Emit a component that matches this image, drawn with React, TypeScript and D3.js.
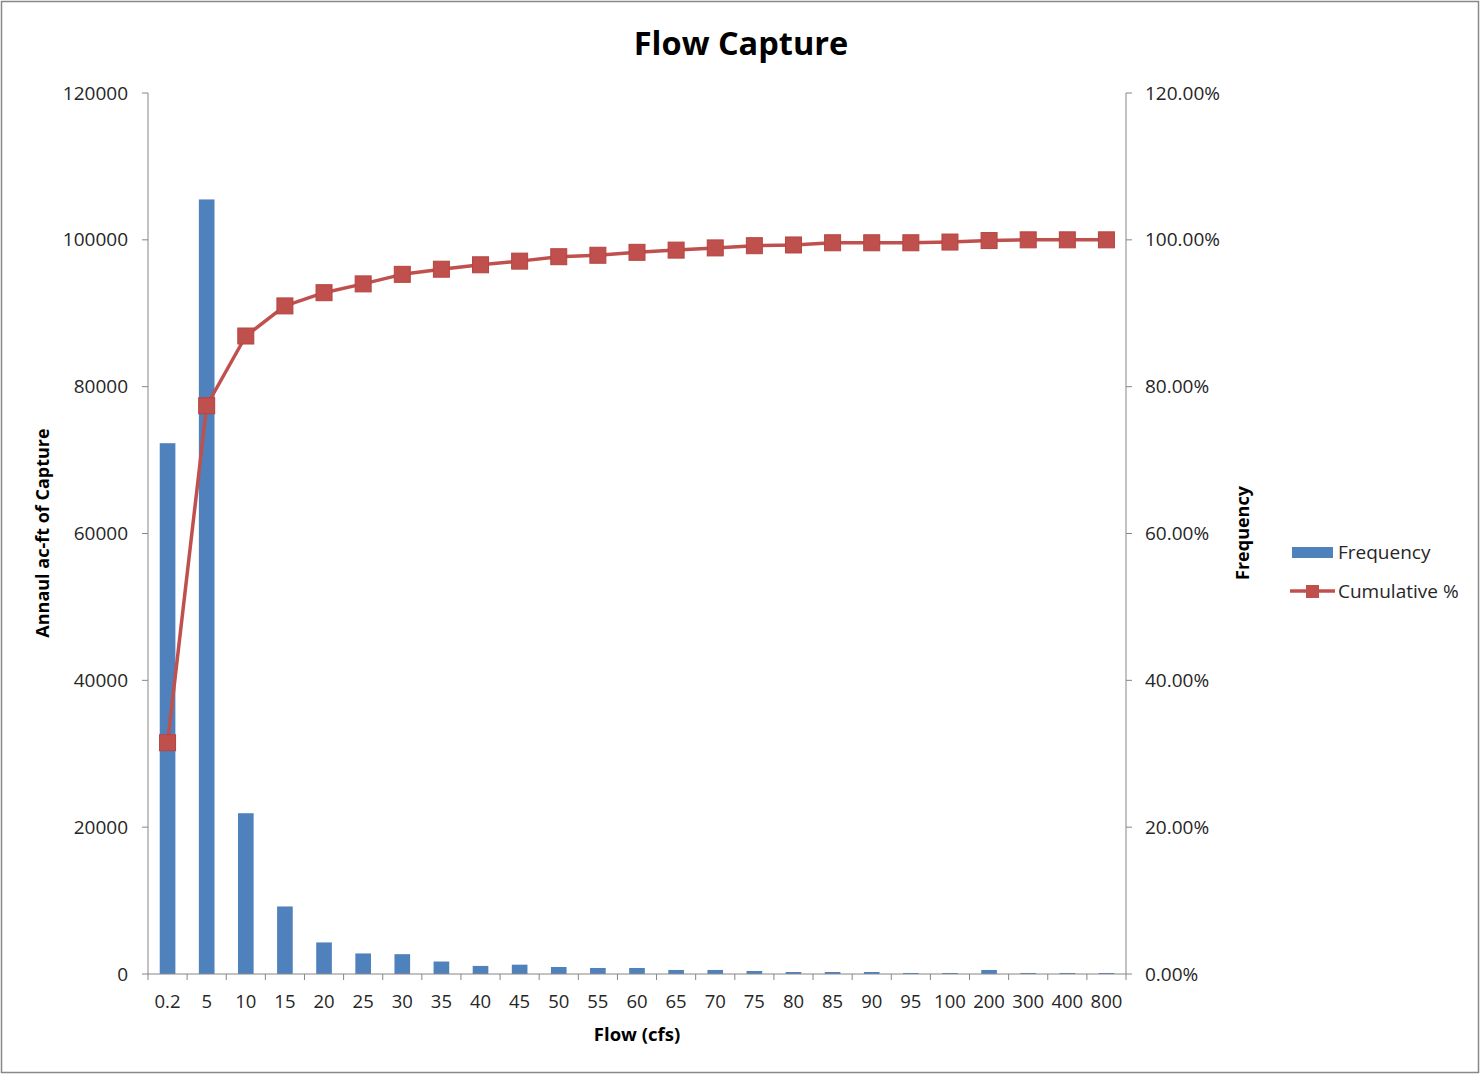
import React from "react";
import * as d3 from "d3";

const categories = ["0.2","5","10","15","20","25","30","35","40","45","50","55","60","65","70","75","80","85","90","95","100","200","300","400","800"];
const frequency = [72300,105500,21900,9200,4300,2800,2700,1700,1100,1270,950,820,820,550,550,410,270,270,270,140,140,550,140,140,140];
const cumulative = [31.5,77.4,86.9,91.0,92.8,94.0,95.3,96.0,96.6,97.1,97.7,97.9,98.3,98.6,98.9,99.2,99.3,99.6,99.6,99.6,99.7,99.9,100,100,100];
const leftTicks = [0,20000,40000,60000,80000,100000,120000];
const rightTicks = [0,20,40,60,80,100,120];

const W = 1480, H = 1074;
const M = { left: 148, right: 1126, top: 93, bottom: 974 };
const FONT = "'Open Sans', sans-serif";
const AXIS = "#868686";
const BLUE = "#4F81BD";
const RED = "#C0504D";

export default function App() {
  const x = d3.scaleBand<string>().domain(categories).range([M.left, M.right]).paddingInner(0).paddingOuter(0);
  const yL = d3.scaleLinear().domain([0, 120000]).range([M.bottom, M.top]);
  const yR = d3.scaleLinear().domain([0, 120]).range([M.bottom, M.top]);
  const bw = x.bandwidth() * 0.4;
  const cx = (c: string) => (x(c) as number) + x.bandwidth() / 2;
  const line = d3.line<number>().x((_, i) => cx(categories[i])).y(d => yR(d));
  const ms = 16;

  return (
    <svg width={W} height={H} style={{ position: "absolute", left: 0, top: 0, fontFamily: FONT }}>
      <rect x={0} y={0} width={W} height={H} fill="#fff" />
      <rect x={1.5} y={1.5} width={W - 3} height={H - 3} fill="none" stroke="#888" strokeWidth={1.5} />
      <text x={741} y={55} textAnchor="middle" fontSize={32.5} fontWeight="bold" fill="#000">Flow Capture</text>

      {/* bars */}
      {frequency.map((v, i) => (
        <rect key={i} x={cx(categories[i]) - bw / 2} y={yL(v)} width={bw} height={M.bottom - yL(v)} fill={BLUE} />
      ))}

      {/* axes */}
      <line x1={M.left} x2={M.left} y1={M.top} y2={M.bottom} stroke={AXIS} strokeWidth={1} />
      <line x1={M.right} x2={M.right} y1={M.top} y2={M.bottom} stroke={AXIS} strokeWidth={1} />
      <line x1={M.left} x2={M.right} y1={M.bottom} y2={M.bottom} stroke={AXIS} strokeWidth={1} />
      {leftTicks.map(t => (
        <g key={t}>
          <line x1={M.left - 6} x2={M.left} y1={yL(t)} y2={yL(t)} stroke={AXIS} />
          <text x={128} y={yL(t)} dy="0.35em" textAnchor="end" fontSize={19} fill="#262626">{t}</text>
        </g>
      ))}
      {rightTicks.map(t => (
        <g key={t}>
          <line x1={M.right} x2={M.right + 6} y1={yR(t)} y2={yR(t)} stroke={AXIS} />
          <text x={1145} y={yR(t)} dy="0.35em" textAnchor="start" fontSize={19} fill="#262626">{t.toFixed(2)}%</text>
        </g>
      ))}
      {categories.map((c, i) => (
        <g key={c}>
          <line x1={x(c) as number} x2={x(c) as number} y1={M.bottom} y2={M.bottom + 6} stroke={AXIS} />
          <text x={cx(c)} y={1008} textAnchor="middle" fontSize={18.5} fill="#262626">{c}</text>
        </g>
      ))}
      <line x1={M.right} x2={M.right} y1={M.bottom} y2={M.bottom + 6} stroke={AXIS} />

      {/* cumulative line */}
      <path d={line(cumulative) || ""} fill="none" stroke={RED} strokeWidth={3.5} strokeLinejoin="round" />
      {cumulative.map((v, i) => (
        <rect key={i} x={cx(categories[i]) - ms / 2} y={yR(v) - ms / 2} width={ms} height={ms} fill={RED} stroke="#B5453F" strokeWidth={1} />
      ))}

      {/* axis titles */}
      <text transform={`translate(49,533) rotate(-90)`} textAnchor="middle" fontSize={18} fontWeight="bold" fill="#000">Annaul ac-ft of Capture</text>
      <text transform={`translate(1249,533) rotate(-90)`} textAnchor="middle" fontSize={18} fontWeight="bold" fill="#000">Frequency</text>
      <text x={637} y={1041} textAnchor="middle" fontSize={18.5} fontWeight="bold" fill="#000">Flow (cfs)</text>

      {/* legend */}
      <rect x={1292} y={547} width={41} height={11} fill={BLUE} />
      <text x={1338} y={552} dy="0.35em" fontSize={19} fill="#262626">Frequency</text>
      <line x1={1290} x2={1335} y1={591} y2={591} stroke={RED} strokeWidth={3.5} />
      <rect x={1306} y={585} width={13} height={13} fill={RED} />
      <text x={1338} y={591} dy="0.35em" fontSize={19} fill="#262626">Cumulative %</text>
    </svg>
  );
}
